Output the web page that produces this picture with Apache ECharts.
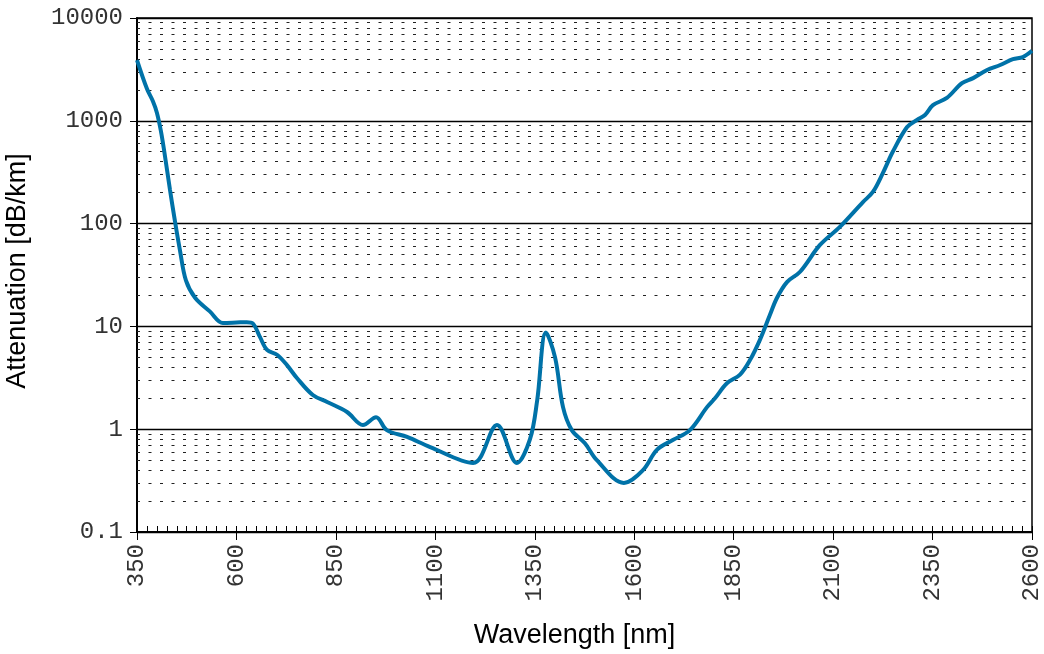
<!DOCTYPE html>
<html>
<head>
<meta charset="utf-8">
<script src="https://cdn.jsdelivr.net/npm/echarts@6/dist/echarts.min.js"></script>
<style>html,body{margin:0;padding:0;background:#fff}#c{width:1044px;height:654px}</style>
</head>
<body>
<div id="c"></div>
<script>
// Wavelength [nm]
const wavelength = [350, 375, 390, 400, 410, 418, 433, 445, 458, 473, 496, 533, 566, 600, 626, 641, 659, 677, 702, 727, 752, 792, 828, 878, 918, 951, 978, 1029, 1087, 1195, 1255, 1305, 1338, 1356, 1378, 1401, 1421, 1443, 1476, 1506, 1574, 1622, 1657, 1697, 1740, 1783, 1803, 1833, 1866, 1891, 1916, 1941, 1959, 1984, 2017, 2067, 2117, 2175, 2200, 2225, 2250, 2286, 2311, 2331, 2351, 2386, 2424, 2452, 2487, 2520, 2552, 2577, 2600];
// Attenuation [dB/km]
const attenuation = [3900, 2050, 1550, 1200, 800, 520, 212, 108, 55, 28, 19, 14, 10.8, 10.9, 11.0, 10.7, 7.9, 5.9, 5.3, 4.2, 3.15, 2.15, 1.84, 1.47, 1.1, 1.31, 0.98, 0.84, 0.67, 0.47, 1.1, 0.47, 0.8, 1.9, 8.7, 5.0, 1.64, 0.98, 0.73, 0.50, 0.30, 0.40, 0.63, 0.785, 0.98, 1.64, 2.0, 2.8, 3.4, 4.7, 7.4, 12.9, 19, 27, 34, 62, 93, 162, 203, 310, 500, 870, 1020, 1140, 1420, 1670, 2330, 2600, 3120, 3490, 3980, 4170, 4800];
// axis settings
const xStart = 350, xEnd = 2600, xStep = 250;
const decades = [0.1, 1, 10, 100, 1000];
const minorMultipliers = [2, 3, 4, 5, 6, 7, 8, 9];

const minorLines = [];
decades.forEach(d => minorMultipliers.forEach(m => minorLines.push({ yAxis: +(d * m).toPrecision(3) })));

const data = wavelength.map((w, i) => [w - xStart, attenuation[i]]);

const chart = echarts.init(document.getElementById('c'), null, { renderer: 'canvas' });
const monoFont = '"Liberation Mono", "DejaVu Sans Mono", monospace';
const sansFont = '"Liberation Sans", Arial, sans-serif';
chart.setOption({
  animation: false,
  backgroundColor: '#fff',
  grid: { left: 137, right: 12, top: 18, bottom: 122, show: true, borderColor: '#000', borderWidth: 1.5,
    containLabel: false, outerBoundsMode: 'none' },
  xAxis: [
    {
      type: 'value', min: 0, max: xEnd - xStart, interval: xStep,
      name: 'Wavelength [nm]', nameLocation: 'middle', nameGap: 90,
      nameTextStyle: { fontFamily: sansFont, fontSize: 27, color: '#000', padding: [0, 20, 0, 0] },
      axisLine: { show: true, lineStyle: { color: '#000', width: 2 } },
      axisTick: { show: true, inside: false, length: 8, lineStyle: { color: '#000', width: 1 } },
      axisLabel: { rotate: 90, margin: 12, fontFamily: monoFont, fontSize: 24, color: '#333',
        formatter: v => String(v + xStart) },
      splitLine: { show: false }
    },
    {
      type: 'value', min: 0, max: xEnd - xStart, interval: xStep / 10,
      position: 'bottom',
      axisLine: { show: false },
      axisTick: { show: true, inside: true, length: 6, lineStyle: { color: '#000', width: 1 } },
      axisLabel: { show: false },
      splitLine: { show: false }
    }
  ],
  yAxis: {
    type: 'log', logBase: 10, min: 0.1, max: 10000,
    name: 'Attenuation [dB/km]', nameLocation: 'middle', nameGap: 106,
    nameTextStyle: { fontFamily: sansFont, fontSize: 27, color: '#000', padding: [0, 0, 0, 8] },
    axisLine: { show: true, lineStyle: { color: '#000', width: 2 } },
    axisTick: { show: true, inside: false, length: 7, lineStyle: { color: '#000', width: 1 } },
    axisLabel: { margin: 14, fontFamily: monoFont, fontSize: 24, color: '#333',
      formatter: v => (v < 1 ? String(+v.toPrecision(2)) : String(Math.round(v))) },
    splitLine: { show: true, lineStyle: { color: '#000', width: 1.3 } },
    minorTick: { show: false },
    minorSplitLine: { show: false }
  },
  series: [{
    type: 'line',
    xAxisIndex: 0,
    data: data,
    smooth: 0.35,
    showSymbol: false,
    lineStyle: { color: '#0072A8', width: 4 },
    z: 5,
    markLine: {
      silent: true, symbol: 'none', label: { show: false },
      lineStyle: { color: '#222', width: 1, type: [3, 8.5] },
      data: minorLines,
      z: 1
    }
  }]
});
</script>
</body>
</html>
